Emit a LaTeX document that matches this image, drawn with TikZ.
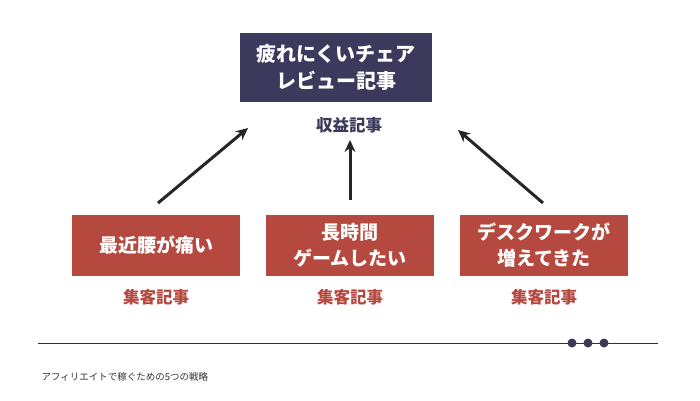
\documentclass[tikz,border=0pt]{standalone}
\usepackage{fontspec}
\setmainfont{Noto Sans CJK JP}
\usepackage{tikz}
\usetikzlibrary{arrows.meta}
\definecolor{navy}{HTML}{3B3A5C}
\definecolor{brick}{HTML}{B5493F}
\begin{document}
\begin{tikzpicture}[x=1pt,y=-1pt,
    goal/.style={fill=navy,text=white,font=\bfseries\fontsize{20}{27}\selectfont,minimum width=192pt,minimum height=69pt,align=center,inner sep=0pt},
    topic/.style={fill=brick,text=white,font=\bfseries\fontsize{19}{26}\selectfont,minimum width=168pt,minimum height=61pt,align=center,inner sep=0pt},
    tag/.style={font=\bfseries\fontsize{16.5}{19}\selectfont},
    >={Stealth[length=12pt,width=11pt]}]
\useasboundingbox (0,0) rectangle (700,400);
\fill[white] (0,0) rectangle (700,400);
\node[goal] (G) at (336,67.5) {疲れにくいチェア\\レビュー記事};
\node[tag,text=navy] (GL) at (349,125) {収益記事};
\node[topic] (A) at (156,245.5) {最近腰が痛い};
\node[topic] (B) at (350,245.5) {長時間\\ゲームしたい};
\node[topic] (C) at (544,245.5) {デスクワークが\\増えてきた};
\node[tag,text=brick] (AL) at (156,297) {集客記事};
\node[tag,text=brick] (BL) at (350,297) {集客記事};
\node[tag,text=brick] (CL) at (544,297) {集客記事};
\coordinate (a1) at (158,203); \coordinate (a2) at (248,128);
\coordinate (b1) at (350,200); \coordinate (b2) at (350,140);
\coordinate (c1) at (543,203); \coordinate (c2) at (458,130);
\begin{scope}[line width=3pt,black!85]
  \draw[->] (a1) -- (a2);
  \draw[->] (b1) -- (b2);
  \draw[->] (c1) -- (c2);
\end{scope}
\coordinate (l1) at (38,343); \coordinate (l2) at (658,343);
\draw[navy!80!black,line width=1pt] (l1) -- (l2);
\foreach \x in {572,588,604}
  \fill[navy] (\x,343) circle (4.5pt);
\node[anchor=west,font=\fontsize{9.5}{11}\selectfont,text=black!80] (F) at (38,377) {アフィリエイトで稼ぐための5つの戦略};
\end{tikzpicture}
\end{document}
